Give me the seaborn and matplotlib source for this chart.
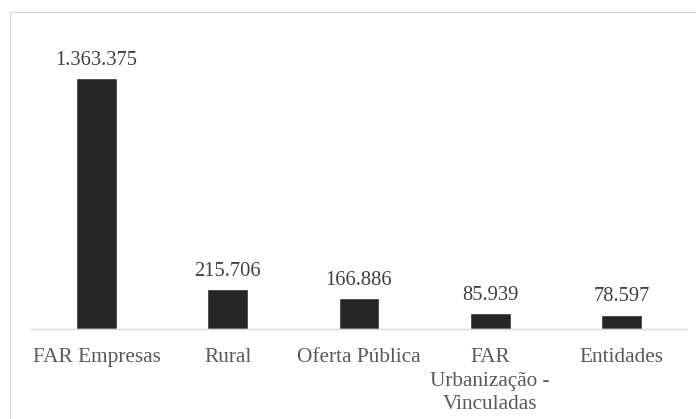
import matplotlib
matplotlib.use("Agg")
import matplotlib.pyplot as plt
from matplotlib.lines import Line2D
import seaborn as sns
import pandas as pd

categorias = ["FAR Empresas", "Rural", "Oferta Pública", "FAR\nUrbanização -\nVinculadas", "Entidades"]
unidades = [1363375, 215706, 166886, 85939, 78597]
rotulos = ["1.363.375", "215.706", "166.886", "85.939", "78.597"]

sns.set_theme(style="white")
SERIF = "Liberation Serif"
plt.rcParams["font.family"] = "serif"
plt.rcParams["font.serif"] = [SERIF, "DejaVu Serif"]

df = pd.DataFrame({"categoria": categorias, "unidades": unidades})

W, H = 696, 419
fig = plt.figure(figsize=(W / 100, H / 100), dpi=100)
ax_left, ax_right = 31, 687
ax_bottom = 329
ymax = 1600000
ax_top = ax_bottom - 251 * ymax / unidades[0]
ax = fig.add_axes([ax_left / W, 1 - ax_bottom / H, (ax_right - ax_left) / W, (ax_bottom - ax_top) / H])

sns.barplot(data=df, x="categoria", y="unidades", color="#262626", width=0.31,
            saturation=1, ax=ax)
ax.set_ylim(0, ymax)
ax.set_xlim(-0.5, len(categorias) - 0.5)

for patch, txt in zip(ax.patches, rotulos):
    ax.annotate(txt, (patch.get_x() + patch.get_width() / 2, patch.get_height()),
                xytext=(0, 6), textcoords="offset points", ha="center", va="bottom",
                fontsize=14.8, color="#404040", family=SERIF)

ax.set_xlabel("")
ax.set_ylabel("")
ax.set_yticks([])
ax.set_xticks(range(len(categorias)))
ax.set_xticklabels(categorias, family=SERIF, fontsize=15.3, color="#595959", linespacing=1.32)
ax.tick_params(axis="x", length=0, pad=14)
for s in ["top", "right", "left"]:
    ax.spines[s].set_visible(False)
ax.spines["bottom"].set_color("#d9d9d9")
ax.spines["bottom"].set_linewidth(1.0)

# outer frame of the chart area
fig.add_artist(Line2D([10 / W, 10 / W], [0, 1 - 12.5 / H], transform=fig.transFigure,
                      color="#d9d9d9", lw=1.0))
fig.add_artist(Line2D([10 / W, 1], [1 - 12.5 / H, 1 - 12.5 / H], transform=fig.transFigure,
                      color="#d9d9d9", lw=1.0))

fig.savefig("out.png", dpi=100, facecolor="white")
